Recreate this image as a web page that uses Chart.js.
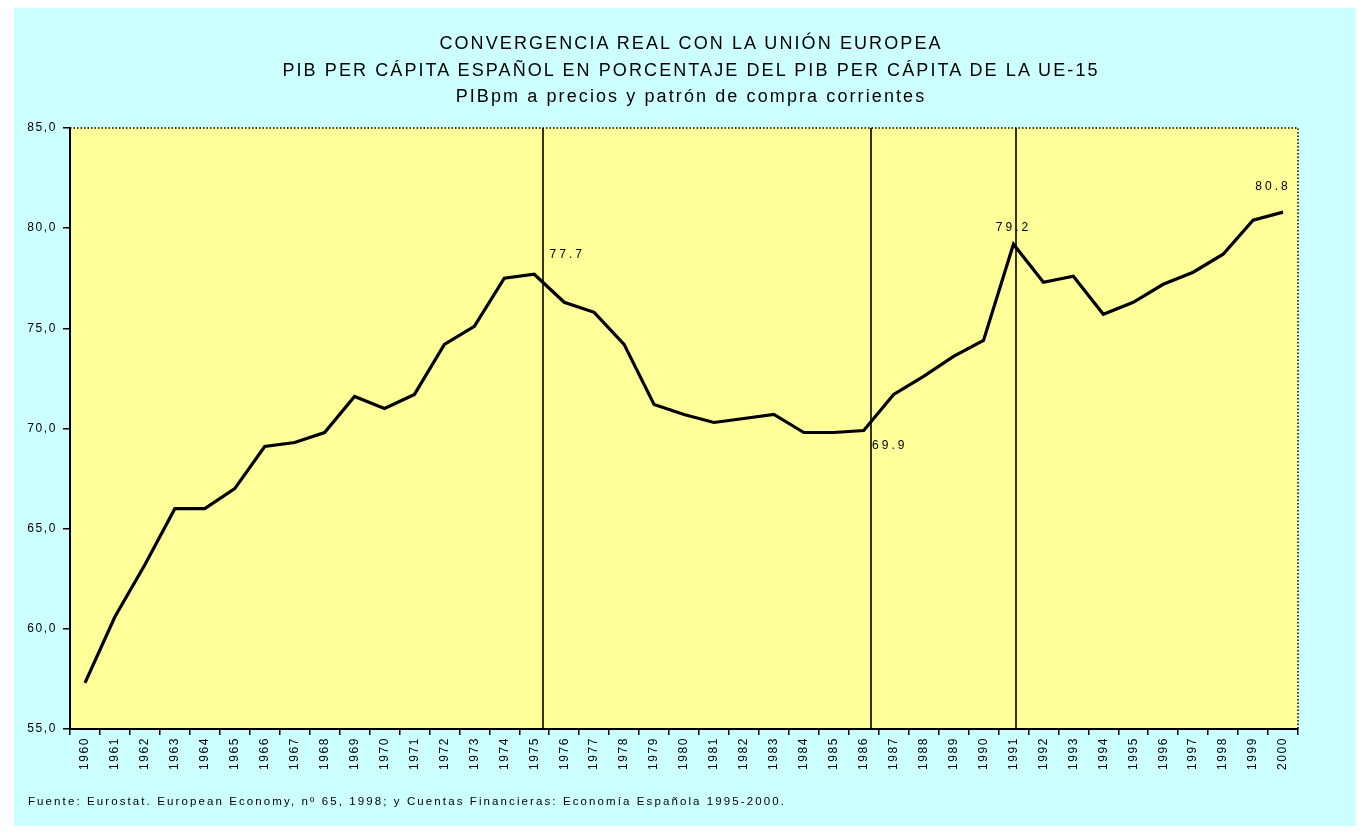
<!DOCTYPE html>
<html lang="es">
<head>
<meta charset="utf-8">
<title>Convergencia real con la Unión Europea</title>
<script src="https://cdn.jsdelivr.net/npm/chart.js@4.4.1/dist/chart.umd.min.js"></script>
<style>
  html, body { margin: 0; padding: 0; background: #fff; }
  #frame { position: absolute; left: 14px; top: 8px; width: 1342px; height: 818px; background: #ccffff; }
  #wrap { position: absolute; left: 0; top: 0; width: 1366px; height: 833px; }
  #titulo {
    position: absolute; left: 0; top: 30px; width: 1382px; text-align: center;
    font: normal 18px "Liberation Sans", Arial, sans-serif; line-height: 26.5px;
    letter-spacing: 2.1px; color: #000; margin: 0;
  }
  #fuente {
    position: absolute; left: 28px; top: 795px; margin: 0;
    font: 11.5px "Liberation Sans", Arial, sans-serif; letter-spacing: 2.1px; color: #000;
  }
</style>
</head>
<body>
<div id="frame"></div>
<div id="wrap"><canvas id="pibChart" width="1366" height="833"></canvas></div>
<h1 id="titulo">CONVERGENCIA REAL CON LA UNIÓN EUROPEA<br>PIB PER CÁPITA ESPAÑOL EN PORCENTAJE DEL PIB PER CÁPITA DE LA UE-15<br>PIBpm a precios y patrón de compra corrientes</h1>
<p id="fuente">Fuente: Eurostat. European Economy, nº 65, 1998; y Cuentas Financieras: Economía Española 1995-2000.</p>

<script>
// años (eje X)
const years = [
  "1960", "1961", "1962", "1963", "1964", "1965", "1966", "1967", "1968", "1969",
  "1970", "1971", "1972", "1973", "1974", "1975", "1976", "1977", "1978", "1979",
  "1980", "1981", "1982", "1983", "1984", "1985", "1986", "1987", "1988", "1989",
  "1990", "1991", "1992", "1993", "1994", "1995", "1996", "1997", "1998", "1999",
  "2000"
];

// PIB per cápita España, % de la UE-15
const pibPerCapita = [
  57.3, 60.6, 63.2, 66.0, 66.0, 67.0, 69.1, 69.3, 69.8, 71.6,
  71.0, 71.7, 74.2, 75.1, 77.5, 77.7, 76.3, 75.8, 74.2, 71.2,
  70.7, 70.3, 70.5, 70.7, 69.8, 69.8, 69.9, 71.7, 72.6, 73.6,
  74.4, 79.2, 77.3, 77.6, 75.7, 76.3, 77.2, 77.8, 78.7, 80.4,
  80.8
];

const yTicks = [55, 60, 65, 70, 75, 80, 85];

// años con línea vertical y años con etiqueta de valor
const markerYears = ["1975", "1986", "1991"];
const labelYears = ["1975", "1986", "1991", "2000"];

const FONT = '"Liberation Sans", Arial, sans-serif';

// small nudges so things sit where the original drawing put them
const markerShift = { "1975": 9, "1986": 7, "1991": 3 };
const labelShift = {
  "1975": [33, -20],
  "1986": [26, 15],
  "1991": [0, -17],
  "2000": [-10, -25]
};

const letterSpacing = {
  id: "letterSpacing",
  beforeUpdate(chart) { chart.ctx.letterSpacing = "1.6px"; },
  beforeDraw(chart) { chart.ctx.letterSpacing = "1.6px"; }
};

const plotBackground = {
  id: "plotBackground",
  beforeDraw(chart) {
    const { ctx, chartArea: a } = chart;
    ctx.save();
    ctx.fillStyle = "#ffff99";
    ctx.fillRect(a.left, a.top, a.right - a.left, a.bottom - a.top);
    ctx.strokeStyle = "#000";
    ctx.lineWidth = 1.5;
    ctx.setLineDash([1.5, 2]);
    ctx.beginPath();
    ctx.moveTo(a.left, a.top);
    ctx.lineTo(a.right, a.top);
    ctx.lineTo(a.right, a.bottom);
    ctx.stroke();
    ctx.restore();
  }
};

const markers = {
  id: "markers",
  afterDatasetsDraw(chart) {
    const { ctx, chartArea: a, scales } = chart;
    ctx.save();
    ctx.strokeStyle = "#000";
    ctx.lineWidth = 1.6;
    markerYears.forEach(y => {
      const x = Math.round(scales.x.getPixelForValue(years.indexOf(y)) + markerShift[y]);
      ctx.beginPath();
      ctx.moveTo(x, a.top);
      ctx.lineTo(x, a.bottom);
      ctx.stroke();
    });

    ctx.font = "12px " + FONT;
    ctx.letterSpacing = "3px";
    ctx.fillStyle = "#000";
    ctx.textAlign = "center";
    ctx.textBaseline = "middle";
    labelYears.forEach(y => {
      const i = years.indexOf(y);
      const x = scales.x.getPixelForValue(i) + labelShift[y][0];
      const py = scales.y.getPixelForValue(pibPerCapita[i]) + labelShift[y][1];
      ctx.fillText(pibPerCapita[i].toFixed(1), x, py);
    });
    ctx.restore();
  }
};

new Chart(document.getElementById("pibChart"), {
  type: "line",
  data: {
    labels: years,
    datasets: [{
      label: "PIB per cápita (% UE-15)",
      data: pibPerCapita,
      borderColor: "#000",
      borderWidth: 3.2,
      pointRadius: 0,
      tension: 0,
      fill: false
    }]
  },
  options: {
    responsive: false,
    animation: false,
    layout: { padding: { left: 14, right: 68, top: 128, bottom: 54 } },
    plugins: {
      legend: { display: false },
      tooltip: { enabled: false }
    },
    scales: {
      x: {
        type: "category",
        offset: true,
        afterFit: s => { s.height = 50; },
        border: { color: "#000", width: 2 },
        grid: { offset: true, drawOnChartArea: false, color: "#000", lineWidth: 1.5, tickLength: 6 },
        ticks: {
          color: "#000", font: { family: FONT, size: 12 },
          minRotation: 90, maxRotation: 90, autoSkip: false, padding: 2
        }
      },
      y: {
        min: 55,
        max: 85,
        afterFit: s => { s.width = 56; },
        afterBuildTicks: s => { s.ticks = yTicks.map(v => ({ value: v })); },
        border: { color: "#000", width: 2 },
        grid: { drawOnChartArea: false, color: "#000", lineWidth: 1.5, tickLength: 7 },
        ticks: {
          color: "#000", font: { family: FONT, size: 12 }, padding: 6,
          callback: v => v.toFixed(1).replace(".", ",")
        }
      }
    }
  },
  plugins: [letterSpacing, plotBackground, markers]
});
</script>
</body>
</html>
